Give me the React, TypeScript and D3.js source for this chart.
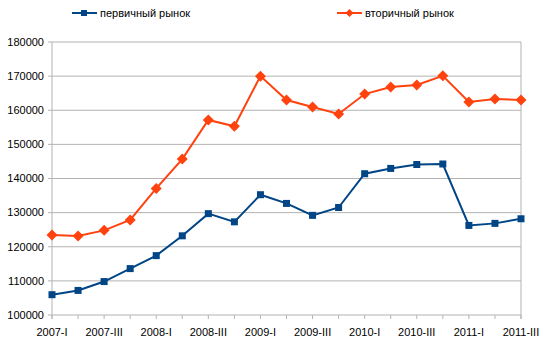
import React from "react";
import * as d3 from "d3";

const categories = [
  "2007-I", "2007-II", "2007-III", "2007-IV",
  "2008-I", "2008-II", "2008-III", "2008-IV",
  "2009-I", "2009-II", "2009-III", "2009-IV",
  "2010-I", "2010-II", "2010-III", "2010-IV",
  "2011-I", "2011-II", "2011-III",
];
const primaryMarket = [
  105950, 107200, 109800, 113600, 117400, 123200, 129700, 127300,
  135250, 132700, 129200, 131500, 141400, 142950, 144100, 144250,
  126250, 126850, 128200,
];
const secondaryMarket = [
  123450, 123150, 124800, 127850, 137100, 145700, 157150, 155300,
  170000, 163000, 160950, 158900, 164750, 166800, 167400, 170100,
  162400, 163300, 163000,
];
const yTicks = [100000, 110000, 120000, 130000, 140000, 150000, 160000, 170000, 180000];
const seriesNames = ["первичный рынок", "вторичный рынок"];

const W = 549, H = 346;
const L = 52, R = 521, T = 42, B = 315;
const BLUE = "#004586", ORANGE = "#ff420e", GRID = "#b3b3b3";
const FONT = "'Liberation Sans', Arial, sans-serif";

export default function App() {
  const x = d3.scalePoint<string>().domain(categories).range([L, R]);
  const y = d3.scaleLinear().domain([100000, 180000]).range([B, T]);
  const line = d3.line<number>()
    .x((_, i) => x(categories[i]) as number)
    .y((d) => y(d));

  return (
    <svg width={W} height={H} style={{ position: "absolute", left: 0, top: 0 }} fontFamily={FONT}>
      <rect width={W} height={H} fill="#fff" />
      {yTicks.map((t) => (
        <g key={t}>
          <line x1={L - 4} x2={R} y1={y(t)} y2={y(t)} stroke={GRID} strokeWidth={1} />
          <text x={L - 8} y={y(t)} dy="0.35em" textAnchor="end" fontSize={11} fill="#000">{t}</text>
        </g>
      ))}
      <line x1={L} x2={L} y1={T} y2={B + 4} stroke={GRID} />
      <line x1={R} x2={R} y1={T} y2={B + 4} stroke={GRID} />
      {categories.map((c, i) => (
        <g key={c}>
          <line x1={x(c)} x2={x(c)} y1={B} y2={B + 4} stroke={GRID} />
          {i % 2 === 0 && (
            <text x={x(c)} y={B + 17} dy="0.35em" textAnchor="middle" fontSize={11} fill="#000">{c}</text>
          )}
        </g>
      ))}
      <path d={line(primaryMarket) || ""} fill="none" stroke={BLUE} strokeWidth={2} />
      <path d={line(secondaryMarket) || ""} fill="none" stroke={ORANGE} strokeWidth={2} />
      {primaryMarket.map((v, i) => (
        <rect key={"p" + i} x={(x(categories[i]) as number) - 3.5} y={y(v) - 3.5} width={7} height={7} fill={BLUE} />
      ))}
      {secondaryMarket.map((v, i) => {
        const cx = x(categories[i]) as number, cy = y(v), r = 5.5;
        return (
          <path key={"s" + i} d={`M${cx},${cy - r}L${cx + r},${cy}L${cx},${cy + r}L${cx - r},${cy}Z`} fill={ORANGE} />
        );
      })}
      {/* legend */}
      <g>
        <line x1={72} x2={97} y1={13} y2={13} stroke={BLUE} strokeWidth={2} />
        <rect x={81} y={10} width={6} height={6} fill={BLUE} />
        <text x={100} y={13} dy="0.35em" fontSize={11} fill="#000">{seriesNames[0]}</text>
        <line x1={337} x2={362} y1={13} y2={13} stroke={ORANGE} strokeWidth={2} />
        <path d="M349.5,9L353.5,13L349.5,17L345.5,13Z" fill={ORANGE} />
        <text x={365} y={13} dy="0.35em" fontSize={11} fill="#000">{seriesNames[1]}</text>
      </g>
    </svg>
  );
}
